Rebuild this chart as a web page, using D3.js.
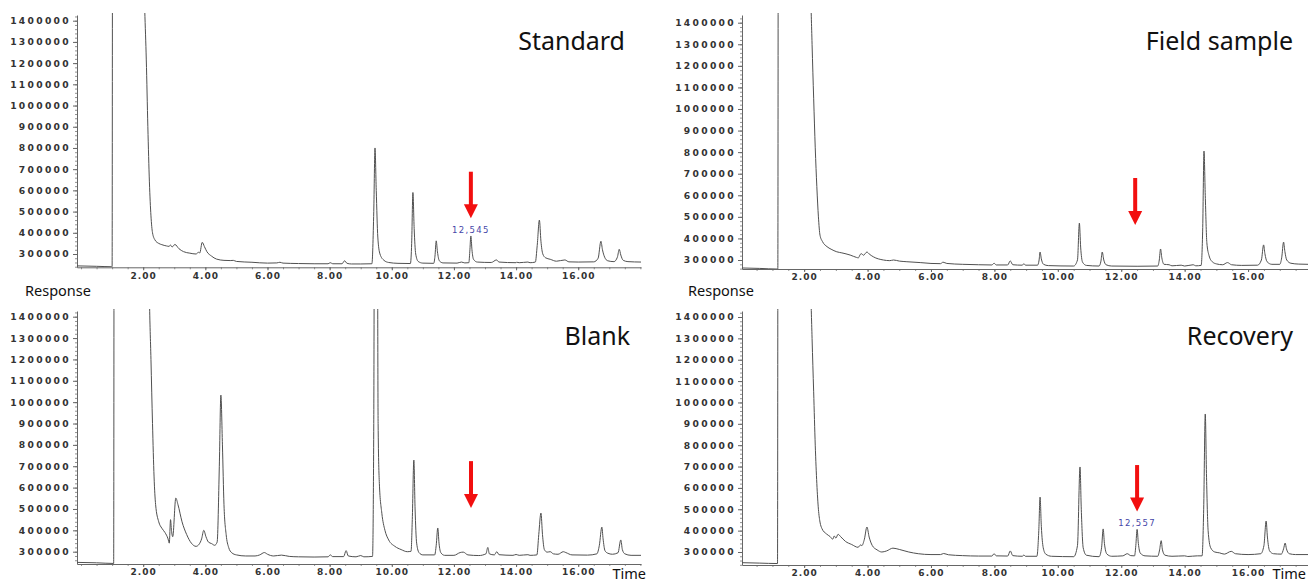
<!DOCTYPE html>
<html><head><meta charset="utf-8">
<script src="https://cdn.jsdelivr.net/npm/d3@7"></script>
<style>
body{margin:0;background:#fff;}
svg{display:block;}
</style></head><body>
<svg id="c" width="1308" height="582"></svg>
<script>
// ---------------- DATA ----------------
const yTickValues = [300000,400000,500000,600000,700000,800000,900000,1000000,1100000,1200000,1300000,1400000];
const xTickValues = [2,4,6,8,10,12,14,16];
const xTickLabels = ["2.00","4.00","6.00","8.00","10.00","12.00","14.00","16.00"];
const panelTitles = ["Standard","Field sample","Blank","Recovery"];
const targetLabels = ["12,545", null, null, "12,557"];
const targetTimes = [12.545, 12.44, 12.55, 12.5];
const arrowFrom = [688000, 680000, 724000, 707000];
const arrowTo = [468000, 462000, 505000, 489000];

// [time (min), response]
const standard = [
[-0.13,244000],[0.5,242000],[0.98,240000],[1.0,240000],[1.02,3000000],[1.9,3000000],[2.0,1700000],
[2.05,1450000],[2.1,1215000],[2.15,900000],[2.2,640000],[2.25,480000],[2.3,400000],[2.38,366000],
[2.5,350000],[2.6,344000],[2.75,338000],[2.83,336000],[2.88,342000],[2.93,333000],[3.02,345000],
[3.15,325000],[3.3,311000],[3.5,304000],[3.7,300000],[3.78,308000],[3.82,305000],[3.9,355000],
[3.97,335000],[4.05,311000],[4.2,290000],[4.36,276000],[4.6,270000],[4.8,269000],[4.9,270000],
[5.0,265000],[5.5,261000],[6.0,257000],[6.3,258000],[6.4,261000],[6.5,257000],[7.0,255000],
[7.5,254000],[7.95,254000],[8.02,259000],[8.1,254000],[8.4,254000],[8.48,268000],[8.56,256000],
[8.7,253000],[9.0,253000],[9.36,254000],[9.42,500000],[9.46,800000],[9.5,600000],[9.55,380000],
[9.62,300000],[9.75,270000],[9.9,260000],[10.2,256000],[10.6,255000],[10.64,350000],[10.68,590000],
[10.72,420000],[10.77,300000],[10.85,265000],[11.0,257000],[11.35,256000],[11.39,290000],[11.43,362000],
[11.47,310000],[11.53,268000],[11.65,258000],[12.1,257000],[12.24,262000],[12.35,258000],[12.48,259000],
[12.51,310000],[12.545,385000],[12.58,320000],[12.63,275000],[12.75,262000],[13.2,260000],[13.37,272000],
[13.45,262000],[14.0,259000],[14.02,261000],[14.1,259000],[14.38,262000],[14.45,259000],[14.62,262000],
[14.68,340000],[14.75,460000],[14.8,360000],[14.86,300000],[14.95,282000],[15.1,275000],[15.3,266000],
[15.57,272000],[15.7,263000],[16.0,262000],[16.5,263000],[16.64,280000],[16.73,360000],[16.78,320000],
[16.85,285000],[16.95,268000],[17.15,264000],[17.26,285000],[17.32,322000],[17.37,295000],[17.45,270000],
[17.6,264000],[18.02,262000]
];

const fieldSample = [
[0.04,263000],[0.6,261000],[1.17,258000],[1.19,3000000],[2.1,3000000],[2.2,1600000],[2.25,1300000],
[2.3,1050000],[2.35,820000],[2.4,640000],[2.45,500000],[2.5,415000],[2.58,385000],[2.72,362000],
[2.85,350000],[3.03,338000],[3.19,333000],[3.45,323000],[3.65,312000],[3.71,310000],[3.77,326000],
[3.81,329000],[3.87,322000],[3.98,337000],[4.05,328000],[4.18,315000],[4.5,300000],[4.7,297000],
[4.82,300000],[5.0,295000],[5.24,292000],[5.66,288000],[6.0,284000],[6.3,283000],[6.38,290000],
[6.5,284000],[7.0,280000],[7.5,278000],[7.92,277000],[7.99,285000],[8.06,277000],[8.42,277000],
[8.5,296000],[8.58,278000],[8.88,276000],[8.93,283000],[8.98,276000],[9.36,276000],[9.41,300000],
[9.44,337000],[9.48,305000],[9.55,280000],[9.7,274000],[10.5,272000],[10.62,300000],[10.68,471000],
[10.72,360000],[10.78,290000],[10.9,275000],[11.3,272000],[11.36,295000],[11.4,337000],[11.45,300000],
[11.52,278000],[11.7,272000],[12.5,271000],[13.15,272000],[13.2,300000],[13.24,351000],[13.28,310000],
[13.35,280000],[13.51,278000],[13.6,273000],[13.89,276000],[14.0,272000],[14.27,278000],[14.35,273000],
[14.52,275000],[14.57,450000],[14.61,805000],[14.65,600000],[14.7,380000],[14.77,320000],[14.87,292000],
[15.0,282000],[15.2,278000],[15.35,288000],[15.48,278000],[15.8,275000],[16.3,276000],[16.42,300000],
[16.49,370000],[16.53,330000],[16.6,292000],[16.75,280000],[17.0,280000],[17.06,310000],[17.12,383000],
[17.16,340000],[17.22,300000],[17.35,285000],[17.6,281000],[17.89,280000]
];

const blank = [
[-0.13,250000],[0.5,248000],[1.05,245000],[1.07,3000000],[2.1,3000000],[2.2,1500000],[2.25,1200000],
[2.3,900000],[2.35,650000],[2.4,520000],[2.5,440000],[2.6,410000],[2.7,390000],[2.8,360000],
[2.84,340000],[2.88,450000],[2.91,400000],[2.95,370000],[3.05,551000],[3.12,520000],[3.25,440000],
[3.4,380000],[3.55,340000],[3.7,325000],[3.8,335000],[3.88,360000],[3.95,400000],[4.02,370000],
[4.1,345000],[4.2,338000],[4.3,330000],[4.38,345000],[4.45,700000],[4.5,1033000],[4.55,800000],
[4.6,520000],[4.67,380000],[4.75,320000],[4.85,295000],[5.0,285000],[5.3,280000],[5.6,280000],
[5.75,285000],[5.9,296000],[6.0,288000],[6.2,280000],[6.45,284000],[6.7,278000],[7.0,276000],
[7.5,275000],[7.95,276000],[8.02,285000],[8.1,277000],[8.45,277000],[8.53,305000],[8.6,280000],
[8.85,276000],[9.0,282000],[9.1,276000],[9.38,278000],[9.42,900000],[9.46,3000000],[9.52,3000000],
[9.56,900000],[9.6,620000],[9.68,480000],[9.78,400000],[9.9,355000],[10.1,325000],[10.3,310000],
[10.5,300000],[10.62,302000],[10.66,450000],[10.71,729000],[10.75,500000],[10.8,340000],[10.88,295000],
[11.0,285000],[11.38,285000],[11.43,330000],[11.48,411000],[11.52,340000],[11.58,295000],[11.7,283000],
[12.0,283000],[12.2,296000],[12.3,298000],[12.45,285000],[12.8,282000],[13.03,290000],[13.09,320000],
[13.14,290000],[13.3,285000],[13.38,300000],[13.45,286000],[13.9,283000],[14.0,287000],[14.1,283000],
[14.38,286000],[14.45,283000],[14.67,285000],[14.73,380000],[14.8,481000],[14.85,380000],[14.91,310000],
[15.0,298000],[15.1,300000],[15.2,290000],[15.35,288000],[15.52,300000],[15.6,296000],[15.8,285000],
[16.3,284000],[16.6,290000],[16.68,330000],[16.76,415000],[16.8,360000],[16.86,305000],[16.95,293000],
[17.1,288000],[17.28,295000],[17.37,355000],[17.42,310000],[17.5,290000],[17.7,283000],[18.02,283000]
];

const recovery = [
[0.04,250000],[0.6,248000],[1.16,246000],[1.18,3000000],[2.1,3000000],[2.2,1600000],[2.25,1300000],
[2.3,1050000],[2.35,800000],[2.4,620000],[2.45,500000],[2.5,440000],[2.56,410000],[2.7,385000],
[2.82,372000],[2.9,360000],[2.95,375000],[3.0,365000],[3.07,383000],[3.15,372000],[3.3,350000],
[3.5,335000],[3.7,322000],[3.78,333000],[3.82,330000],[3.9,360000],[3.98,417000],[4.05,370000],
[4.15,330000],[4.3,310000],[4.45,300000],[4.6,305000],[4.8,318000],[5.0,312000],[5.3,300000],
[5.6,292000],[6.0,288000],[6.3,288000],[6.4,293000],[6.55,287000],[7.0,283000],[7.5,281000],
[7.92,281000],[7.99,292000],[8.06,282000],[8.42,281000],[8.5,305000],[8.58,283000],[8.88,280000],
[8.93,286000],[8.98,280000],[9.34,280000],[9.4,400000],[9.44,557000],[9.48,420000],[9.54,320000],
[9.62,290000],[9.8,280000],[10.5,278000],[10.62,330000],[10.7,698000],[10.74,500000],[10.8,320000],
[10.9,285000],[11.3,278000],[11.38,320000],[11.43,408000],[11.47,340000],[11.55,290000],[11.7,280000],
[12.05,282000],[12.19,292000],[12.3,283000],[12.42,282000],[12.46,330000],[12.5,406000],[12.54,340000],
[12.6,295000],[12.75,282000],[13.15,280000],[13.21,310000],[13.26,353000],[13.3,310000],[13.38,285000],
[13.6,280000],[14.0,282000],[14.1,279000],[14.4,282000],[14.55,282000],[14.6,500000],[14.65,946000],
[14.69,650000],[14.74,400000],[14.82,320000],[14.95,300000],[15.1,296000],[15.25,290000],[15.47,303000],
[15.6,292000],[16.0,288000],[16.4,292000],[16.5,330000],[16.57,445000],[16.61,370000],[16.68,305000],
[16.8,292000],[17.05,290000],[17.12,315000],[17.17,342000],[17.21,315000],[17.3,292000],[17.5,288000],
[17.89,288000]
];

const series = [standard, fieldSample, blank, recovery];

// ---------------- LAYOUT ----------------
const layouts = [
  {xL:77, xR:641, t0:-0.13, t1:18.02, yTop:15, yBot:267.3, y300:254, y1400:20.7, titleX:625, titleY:50},
  {xL:742, xR:1308, t0:0.04, t1:17.89, yTop:15, yBot:269, y300:260, y1400:22.7, titleX:1293, titleY:50},
  {xL:77, xR:641, t0:-0.13, t1:18.02, yTop:311, yBot:564, y300:551.7, y1400:316.7, titleX:630, titleY:345},
  {xL:742, xR:1308, t0:0.04, t1:17.89, yTop:311, yBot:565, y300:552, y1400:317, titleX:1293, titleY:345}
];

const svg = d3.select("#c");
const defs = svg.append("defs");

layouts.forEach((L, i) => {
  const x = d3.scaleLinear().domain([L.t0, L.t1]).range([L.xL, L.xR]);
  const yb = d3.scaleLinear().domain([300000, 1400000]).range([L.y300, L.y1400]);
  const y = yb.copy().domain([yb.invert(L.yBot), yb.invert(L.yTop)]).range([L.yBot, L.yTop]);
  const g = svg.append("g");

  defs.append("clipPath").attr("id", "clip" + i)
    .append("rect").attr("x", L.xL).attr("y", L.yTop - 2)
    .attr("width", L.xR - L.xL).attr("height", L.yBot - L.yTop + 2);

  // minor y ticks
  const yMinor = d3.range(240000, 1430000, 20000).filter(v => y(v) <= L.yBot && y(v) >= L.yTop);
  g.append("g").attr("transform", `translate(${L.xL},0)`)
    .call(d3.axisLeft(y).tickValues(yMinor).tickSize(2).tickFormat(""))
    .call(a => a.select(".domain").remove())
    .selectAll("line").attr("stroke", "#777").attr("stroke-width", 0.8);
  // major y axis
  const ya = g.append("g").attr("transform", `translate(${L.xL},0)`)
    .call(d3.axisLeft(y).tickValues(yTickValues).tickSize(4).tickSizeOuter(0).tickPadding(2).tickFormat(d3.format("d")));
  ya.select(".domain").attr("stroke", "#666");
  ya.selectAll("line").attr("stroke", "#666");
  ya.selectAll("text").attr("fill", "#333").attr("font-family", "DejaVu Sans")
    .attr("font-weight", "bold").attr("font-size", 9.2).style("letter-spacing", "2.3px");

  // minor x ticks
  const xMinor = d3.range(0, 18.01, 0.5).filter(t => x(t) >= L.xL && x(t) <= L.xR);
  g.append("g").attr("transform", `translate(0,${L.yBot})`)
    .call(d3.axisBottom(x).tickValues(xMinor).tickSize(2).tickFormat(""))
    .call(a => a.select(".domain").remove())
    .selectAll("line").attr("stroke", "#777").attr("stroke-width", 0.8);
  const xa = g.append("g").attr("transform", `translate(0,${L.yBot})`)
    .call(d3.axisBottom(x).tickValues(xTickValues).tickSize(3).tickSizeOuter(0).tickPadding(2)
      .tickFormat((d, k) => xTickLabels[k]));
  xa.select(".domain").attr("stroke", "#666");
  xa.selectAll("line").attr("stroke", "#666");
  xa.selectAll("text").attr("fill", "#333").attr("font-family", "DejaVu Sans")
    .attr("font-weight", "bold").attr("font-size", 9).style("letter-spacing", "1px");

  // trace
  const line = d3.line().x(d => x(d[0])).y(d => y(d[1])).curve(d3.curveMonotoneX);
  g.append("path").datum(series[i]).attr("clip-path", `url(#clip${i})`)
    .attr("d", line).attr("fill", "none").attr("stroke", "#505050").attr("stroke-width", 1);

  // title
  g.append("text").attr("x", L.titleX).attr("y", L.titleY).attr("text-anchor", "end")
    .attr("font-family", "Noto Sans").attr("font-size", 25).attr("fill", "#111").text(panelTitles[i]);

  // target peak label
  if (targetLabels[i]) {
    const apex = d3.max(series[i].filter(d => Math.abs(d[0] - targetTimes[i]) < 0.05), d => d[1]);
    g.append("text").attr("x", x(targetTimes[i])).attr("y", y(apex) - 3).attr("text-anchor", "middle")
      .attr("font-family", "DejaVu Sans").attr("font-size", 8.5).attr("fill", "#4646a8")
      .style("letter-spacing", "1.3px").text(targetLabels[i]);
  }

  // red arrow
  const ax = x(targetTimes[i]), a0 = y(arrowFrom[i]), a1 = y(arrowTo[i]);
  g.append("line").attr("x1", ax).attr("x2", ax).attr("y1", a0).attr("y2", a1 - 12)
    .attr("stroke", "#f20f0f").attr("stroke-width", 4);
  g.append("path").attr("d", `M${ax - 7},${a1 - 14}L${ax + 7},${a1 - 14}L${ax},${a1}Z`).attr("fill", "#f20f0f");
});

// axis titles
const axisText = [["Response", 25, 296, "start"], ["Response", 688, 296, "start"], ["Time", 646, 579, "end"], ["Time", 1306, 579, "end"]];
axisText.forEach(a => {
  svg.append("text").attr("x", a[1]).attr("y", a[2]).attr("text-anchor", a[3])
    .attr("font-family", "Noto Sans").attr("font-size", 14.5).attr("fill", "#111").text(a[0]);
});
</script>
</body></html>
